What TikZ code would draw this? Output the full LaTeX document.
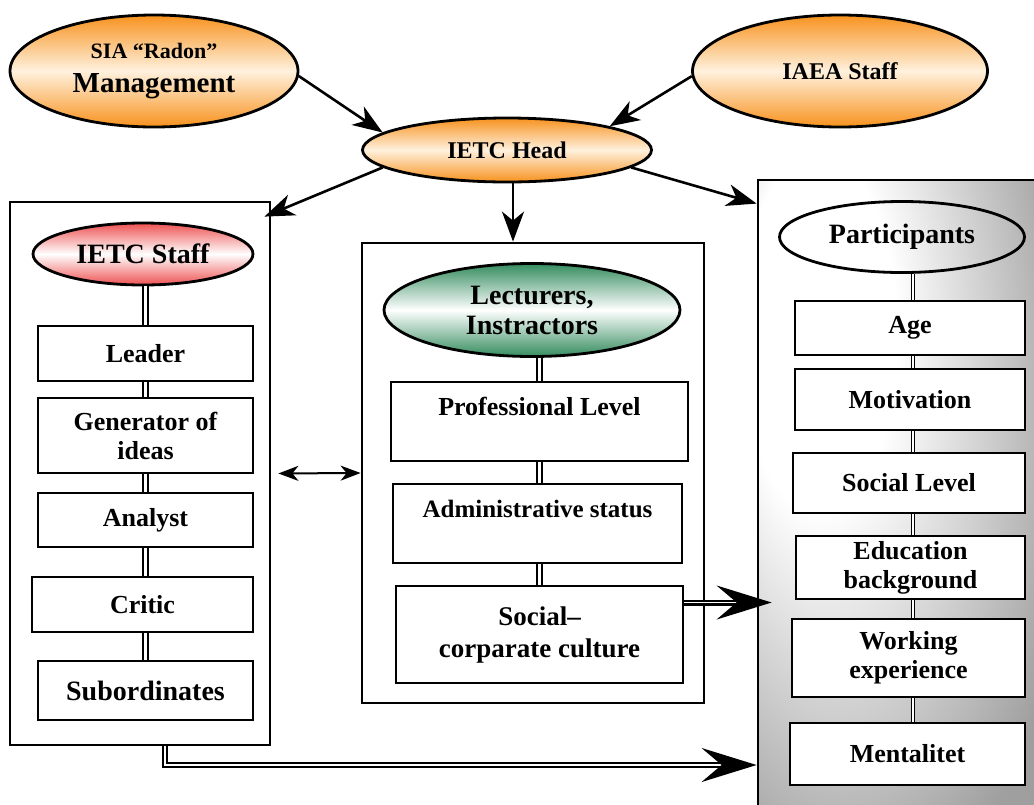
\documentclass[tikz,border=0pt]{standalone}
\usepackage{fontspec}
\setmainfont{Liberation Serif}
\usetikzlibrary{shapes.geometric, arrows.meta, calc}
\usepackage{xcolor}
\definecolor{orng}{RGB}{247,146,30}
\definecolor{orngl}{RGB}{255,241,222}
\definecolor{staffred}{RGB}{238,82,82}
\definecolor{lectgreen}{RGB}{52,140,94}
\pgfdeclareradialshading{partshade}{\pgfpoint{-18bp}{16bp}}{color(0bp)=(white); color(14bp)=(white); color(40bp)=(gray!75); color(70bp)=(gray!75)}

\begin{document}
\begin{tikzpicture}[x=1pt, y=-1pt,
    every node/.style={font=\bfseries\fontsize{26}{29}\selectfont, align=center, inner sep=0pt},
    oval/.style={ellipse, draw, line width=2.8pt},
    orangeoval/.style={oval, top color=orng, bottom color=orng, middle color=orngl, font=\bfseries\fontsize{24}{27}\selectfont},
    itembox/.style={rectangle, draw, fill=white, line width=2.8pt},
    framebox/.style={rectangle, draw, line width=2.8pt},
    dbl/.style={double, double distance=2.6pt, line width=2.6pt},
    thindbl/.style={double, double distance=1.6pt, line width=1.4pt},
    arr/.style={line width=2.6pt, -{Stealth[length=30pt, width=22pt, inset=9pt]}},
    bigarr/.style={double, double distance=1.6pt, line width=2.2pt, -{Stealth[length=55pt, width=34pt, inset=20pt]}}]
        \useasboundingbox (0,0) rectangle (1034,804);

        % 外枠
        \node[framebox, minimum width=260pt, minimum height=543pt] (leftframe) at (140,473.5) {};
        \node[framebox, minimum width=342pt, minimum height=460pt] (midframe) at (533,473) {};
        \node[framebox, shade, shading=partshade, minimum width=282pt, minimum height=632pt] (rightframe) at (899,496) {};

        % 上の楕円
        \node[orangeoval, minimum width=288pt, minimum height=112pt] (sia) at (154,71) {{\fontsize{22}{24}\selectfont SIA “Radon”}\\[7pt]{\fontsize{29}{31}\selectfont Management}};
        \node[orangeoval, minimum width=295pt, minimum height=112pt] (iaea) at (840,71) {IAEA Staff};
        \node[orangeoval, minimum width=289pt, minimum height=64pt] (ietchead) at (507,150) {IETC Head};

        % IETC Staff
        \node[oval, top color=staffred, bottom color=staffred, middle color=white, minimum width=220pt, minimum height=62pt, font=\bfseries\fontsize{28}{30}\selectfont] (staff) at (143,254) {IETC Staff};
        \node[itembox, minimum width=215pt, minimum height=55pt] (leader) at (145.5,353.5) {Leader};
        \node[itembox, minimum width=215pt, minimum height=75pt] (generator) at (145.5,435.5) {Generator of\\ideas};
        \node[itembox, minimum width=215pt, minimum height=54pt] (analyst) at (145.5,520) {Analyst};
        \node[itembox, minimum width=221pt, minimum height=55pt] (critic) at (142.5,604.5) {Critic};
        \node[itembox, minimum width=215pt, minimum height=59pt, font=\bfseries\fontsize{28}{30}\selectfont] (subord) at (145.5,690.5) {Subordinates};

        % Lecturers
        \node[oval, top color=lectgreen, bottom color=lectgreen, middle color=white, minimum width=296pt, minimum height=93pt, font=\bfseries\fontsize{28}{30}\selectfont] (lect) at (532,310) {Lecturers,\\Instractors};
        \node[itembox, minimum width=297pt, minimum height=79pt] (prof) at (539.5,421.5) {Professional Level\\[2pt]~};
        \node[itembox, minimum width=289pt, minimum height=79pt, font=\bfseries\fontsize{25}{28}\selectfont] (admin) at (537.5,523.5) {Administrative status\\[2pt]~};
        \node[itembox, minimum width=287pt, minimum height=97pt, font=\bfseries\fontsize{27}{32}\selectfont] (social) at (539.5,634.5) {Social–\\corparate culture};

        % Participants
        \node[oval, minimum width=245pt, minimum height=71pt, font=\bfseries\fontsize{28}{30}\selectfont] (part) at (902,237) {Participants};
        \node[itembox, minimum width=230pt, minimum height=54pt] (age) at (910,328) {Age};
        \node[itembox, minimum width=230pt, minimum height=61pt] (motiv) at (910,399.5) {Motivation};
        \node[itembox, minimum width=232pt, minimum height=60pt] (soclevel) at (909,483) {Social Level};
        \node[itembox, minimum width=229pt, minimum height=63pt] (edu) at (910.5,567.5) {Education\\background};
        \node[itembox, minimum width=233pt, minimum height=78pt] (work) at (908.5,658) {Working\\experience};
        \node[itembox, minimum width=235pt, minimum height=62pt] (ment) at (907.5,754) {Mentalitet};

        % 矢印
        \draw[arr] (sia.-2) -- (ietchead.172);
        \draw[arr] (iaea.182) -- (ietchead.13);
        \draw[arr] (ietchead.188) -- ([shift={(-7,16)}]leftframe.north east);
        \draw[arr] ([xshift=6pt]ietchead.south) -- ([xshift=6pt]ietchead.south |- midframe.north);
        \draw[arr] (ietchead.-8) -- ([shift={(0,25)}]rightframe.north west);
        \draw[line width=2pt, {Stealth[length=20pt, width=15pt, inset=6pt]}-{Stealth[length=20pt, width=15pt, inset=6pt]}, shorten <=7pt] (leftframe.east) -- (midframe.west);

        % 二重線
        \draw[dbl] (staff.south -| leader.north) -- (leader.north);
        \draw[dbl] (leader.south) -- (generator.north);
        \draw[dbl] (generator.south) -- (analyst.north);
        \draw[dbl] (analyst.south) -- (analyst.south |- critic.north);
        \draw[dbl] (subord.north |- critic.south) -- (subord.north);
        \draw[dbl] (prof.north |- lect.south) -- (prof.north);
        \draw[dbl] (prof.south) -- (prof.south |- admin.north);
        \draw[dbl] (prof.south |- admin.south) -- (prof.south |- social.north);
        \draw[thindbl] ([xshift=3pt]age.north |- part.south) -- ([xshift=3pt]age.north);
        \draw[thindbl] ([xshift=3pt]age.south) -- ([xshift=3pt]motiv.north);
        \draw[thindbl] ([xshift=3pt]motiv.south) -- ([xshift=3pt]motiv.south |- soclevel.north);
        \draw[thindbl] ([xshift=3pt]motiv.south |- soclevel.south) -- ([xshift=3pt]motiv.south |- edu.north);
        \draw[thindbl] ([xshift=3pt]motiv.south |- edu.south) -- ([xshift=3pt]motiv.south |- work.north);
        \draw[thindbl] ([xshift=3pt]motiv.south |- work.south) -- ([xshift=3pt]motiv.south |- ment.north);

        % 太い矢印
        \draw[bigarr] ([yshift=32pt]social.east) -- ([yshift=32pt, xshift=15pt]social.east -| rightframe.west);
        \coordinate (bend) at (165,765);
        \draw[bigarr] (bend |- leftframe.south) -- (bend) -- (bend -| rightframe.west);
    \end{tikzpicture}
\end{document}
